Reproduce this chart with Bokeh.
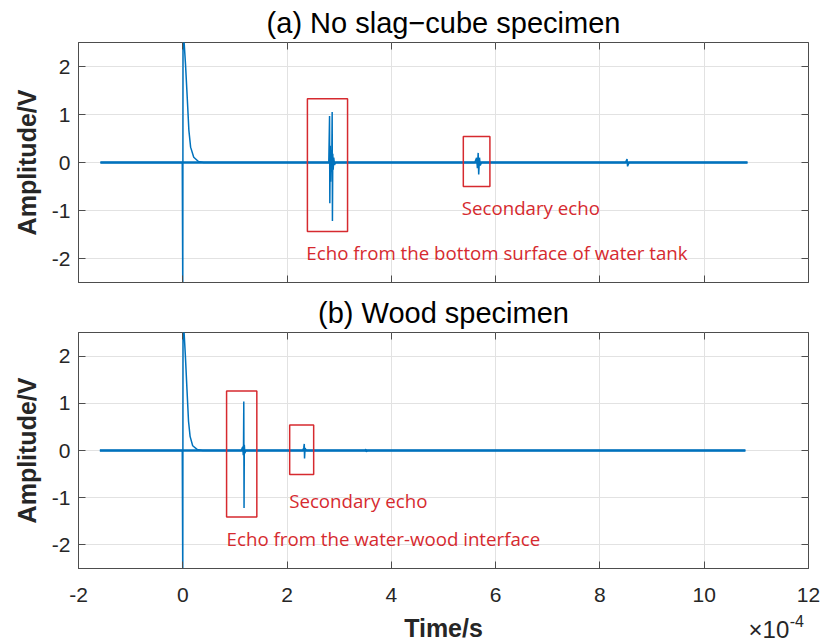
from bokeh.plotting import figure
from bokeh.layouts import column
from bokeh.models import Range1d, LinearAxis, FixedTicker
from bokeh.core.properties import value
from bokeh.embed import file_html
from bokeh.resources import INLINE

# ---------------- data (time in 1e-4 s, amplitude in V) ----------------
# (a) No slag-cube specimen
t_a = [-1.58, -0.01, 0.0, 0.005, 0.02, 0.052, 0.085, 0.117, 0.15, 0.21, 0.30, 0.40,
       2.80, 2.815, 2.82, 2.828, 2.835, 2.845, 2.855, 2.865, 2.87, 2.877, 2.885, 2.895, 2.91, 2.93,
       5.60, 5.635, 5.65, 5.665, 5.675, 5.69, 5.705, 5.73,
       8.49, 8.52, 8.53, 8.56,
       10.83]
amp_a = [0, 0, -2.8, 2.8, 2.6, 2.05, 1.36, 0.67, 0.32, 0.11, 0.02, 0,
         0, 0.97, -0.85, 0.35, -0.4, 0.25, -0.2, 1.05, -1.22, 0.18, -0.15, 0.1, -0.05, 0,
         0, 0.1, -0.12, 0.2, -0.25, 0.1, -0.06, 0,
         0, 0.07, -0.08, 0,
         0]

# (b) Wood specimen
t_b = [-1.59, -0.01, 0.0, 0.005, 0.02, 0.05, 0.08, 0.11, 0.14, 0.19, 0.28, 0.38,
       1.12, 1.15, 1.16, 1.165, 1.17, 1.175, 1.18, 1.19, 1.21,
       2.30, 2.32, 2.33, 2.335, 2.345, 2.37,
       3.50, 3.51, 3.52, 3.54,
       10.79]
amp_b = [0, 0, -2.8, 2.8, 2.6, 2.0, 1.3, 0.62, 0.3, 0.1, 0.02, 0,
         0, 0.08, -0.1, 0.15, 1.04, -1.22, 0.12, -0.06, 0,
         0, 0.06, 0.14, -0.17, 0.05, 0,
         0, 0.03, -0.03, 0,
         0]

# annotation boxes [left, right, bottom, top]
box_a_left = [2.39, 5.38]
box_a_right = [3.16, 5.89]
box_a_bottom = [-1.44, -0.50]
box_a_top = [1.33, 0.54]
box_b_left = [0.84, 2.05]
box_b_right = [1.42, 2.51]
box_b_bottom = [-1.41, -0.51]
box_b_top = [1.26, 0.54]

# annotation texts
txt_a = ["Secondary echo", "Echo from the bottom surface of water tank"]
txt_a_x = [5.35, 2.37]
txt_a_y = [-0.93, -1.88]
txt_b = ["Secondary echo", "Echo from the water-wood interface"]
txt_b_x = [2.04, 0.84]
txt_b_y = [-1.05, -1.86]

titles = ["(a) No slag\u2212cube specimen", "(b) Wood specimen"]
x_label = "Time/s"
exponent_text = ["\u00d710", "-4"]
x_ticks = [-2, 0, 2, 4, 6, 8, 10, 12]
y_ticks = [-2, -1, 0, 1, 2]
x_tick_labels = {t: str(t) for t in x_ticks}
y_tick_labels = {t: str(t) for t in y_ticks}

LINE = "#0072BD"
RED = "#d62a2f"
AX = "#262626"
FRAME = "#4d4d4d"
FONT = "Liberation Sans"


def make_panel(title, t, amp, bl, br, bb, bt, txt, tx, ty, height, border_top, border_bottom, show_x):
    p = figure(width=824, height=height, output_backend="svg", toolbar_location=None,
               x_range=Range1d(-2, 12), y_range=Range1d(-2.5, 2.5),
               min_border_left=78, min_border_right=16,
               min_border_top=border_top, min_border_bottom=border_bottom,
               title=title)
    p.title.text_font = FONT
    p.title.text_font_size = "29px"
    p.title.text_font_style = "normal"
    p.title.align = "center"
    p.title.text_color = "#000000"
    p.title.standoff = 8

    p.outline_line_color = FRAME
    p.outline_line_width = 1
    p.background_fill_color = "white"
    p.border_fill_color = "white"

    p.xaxis.ticker = FixedTicker(ticks=x_ticks)
    p.yaxis.ticker = FixedTicker(ticks=y_ticks)
    p.xaxis.major_label_overrides = x_tick_labels
    p.yaxis.major_label_overrides = y_tick_labels
    for ax in (p.xaxis[0], p.yaxis[0]):
        ax.major_tick_in = 7
        ax.major_tick_out = 0
        ax.minor_tick_line_color = None
        ax.axis_line_color = FRAME
        ax.major_tick_line_color = FRAME
        ax.major_label_text_font = FONT
        ax.major_label_text_font_size = "21px"
        ax.major_label_text_color = AX
        ax.axis_label_text_font = FONT
        ax.axis_label_text_font_size = "25px"
        ax.axis_label_text_font_style = "bold"
        ax.axis_label_text_color = AX
    p.yaxis.axis_label = "Amplitude/V"
    p.yaxis.major_label_standoff = 8
    p.yaxis.axis_label_standoff = 8
    if show_x:
        p.xaxis.major_label_standoff = 19
    else:
        p.xaxis.major_label_text_font_size = "1px"
        p.xaxis.major_label_text_color = None
        p.xaxis.major_label_standoff = 0

    # box ticks on top and right
    top_ax = LinearAxis(ticker=FixedTicker(ticks=x_ticks), major_tick_in=7, major_tick_out=0,
                        minor_tick_line_color=None, major_label_text_font_size="1px",
                        major_label_text_color=None,
                        major_label_standoff=0, axis_line_color=None,
                        major_tick_line_color=FRAME)
    right_ax = LinearAxis(ticker=FixedTicker(ticks=y_ticks), major_tick_in=7, major_tick_out=0,
                          minor_tick_line_color=None, major_label_text_font_size="1px",
                          major_label_text_color=None,
                          major_label_standoff=0, axis_line_color=None,
                          major_tick_line_color=FRAME)
    p.add_layout(top_ax, "above")
    p.add_layout(right_ax, "right")

    p.xgrid.grid_line_color = "#e2e2e2"
    p.ygrid.grid_line_color = "#e2e2e2"
    p.xgrid.ticker = FixedTicker(ticks=x_ticks)
    p.ygrid.ticker = FixedTicker(ticks=y_ticks)

    # baseline noise band and trace
    p.line([t[0], t[-1]], [amp[0], amp[-1]], line_color=LINE, line_width=2.6)
    p.line(t, amp, line_color=LINE, line_width=1.5)

    # annotation boxes
    p.quad(left=bl, right=br, bottom=bb, top=bt, fill_alpha=0, line_color=RED, line_width=1.5)
    p.text(x=tx, y=ty, text=txt, text_font=value("Open Sans"), text_font_size="18.7px",
           text_color=RED, text_align="left", text_baseline="middle")
    return p


p1 = make_panel(titles[0], t_a, amp_a, box_a_left, box_a_right, box_a_bottom, box_a_top,
                txt_a, txt_a_x, txt_a_y, 290, 42, 8, False)
p2 = make_panel(titles[1], t_b, amp_b, box_b_left, box_b_right, box_b_bottom, box_b_top,
                txt_b, txt_b_x, txt_b_y, 322, 40, 44, True)

# strip below the lower panel carrying the x-axis title and its exponent;
# it shares the time axis of the panels (x) and is 32 px tall (y 0..32 from the bottom)
p3 = figure(width=824, height=32, output_backend="svg", toolbar_location=None,
            x_range=p2.x_range, y_range=Range1d(0, 32),
            x_axis_type=None, y_axis_type=None,
            min_border_left=78, min_border_right=16,
            min_border_top=0, min_border_bottom=0)
p3.outline_line_color = None
p3.background_fill_color = "white"
p3.border_fill_color = "white"
p3.text(x=[5.0], y=[17], text=[x_label], text_font=value(FONT), text_font_size="25px",
        text_font_style="bold", text_color=AX, text_align="center", text_baseline="middle")
p3.text(x=[10.85], y=[15], text=[exponent_text[0]], text_font=value(FONT), text_font_size="24px",
        text_color=AX, text_align="left", text_baseline="middle")
p3.text(x=[11.64], y=[24], text=[exponent_text[1]], text_font=value(FONT), text_font_size="16px",
        text_color=AX, text_align="left", text_baseline="middle")

layout = column(p1, p2, p3, spacing=0)
open("out.html", "w").write(file_html(layout, INLINE))
